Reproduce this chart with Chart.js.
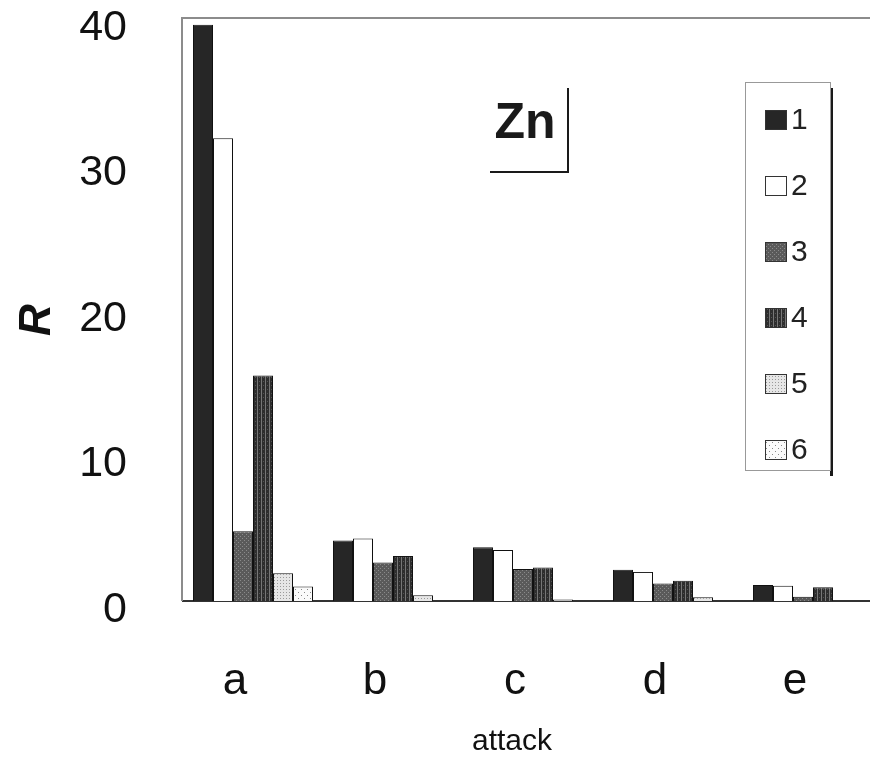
<!DOCTYPE html>
<html>
<head>
<meta charset="utf-8">
<script src="https://cdn.jsdelivr.net/npm/chart.js@4"></script>
<style>
  html, body { margin: 0; padding: 0; background: #fff; overflow: hidden; }
  #wrap { width: 900px; height: 757px; }
</style>
</head>
<body>
<div id="wrap"><canvas id="myChart" width="900" height="757"></canvas></div>
<script>
// values
const categories = ["a", "b", "c", "d", "e"];
const seriesLabels = ["1", "2", "3", "4", "5", "6"];
const s1 = [39.6, 4.15, 3.7, 2.15, 1.1];
const s2 = [31.8, 4.3, 3.5, 2.0, 1.05];
const s3 = [4.8, 2.65, 2.2, 1.2, 0.3];
const s4 = [15.5, 3.1, 2.3, 1.4, 0.95];
const s5 = [1.9, 0.4, 0.1, 0.25, 0];
const s6 = [1.0, 0, 0, 0, 0];
const yTicks = [0, 10, 20, 30, 40];

const FONT = "'Liberation Sans', Arial, sans-serif";

// small tiles for the hatched fills
function makePattern(size, draw) {
  const c = document.createElement("canvas");
  c.width = size;
  c.height = size;
  const g = c.getContext("2d");
  draw(g, size);
  return g.createPattern(c, "repeat");
}

const fill1 = "#262626";
const fill2 = "#ffffff";
const fill3 = makePattern(4, (g) => {
  g.fillStyle = "#5a5a5a";
  g.fillRect(0, 0, 4, 4);
  g.fillStyle = "#8a8a8a";
  g.fillRect(0, 0, 1, 1);
  g.fillRect(2, 2, 1, 1);
});
const fill4 = makePattern(4, (g) => {
  g.fillStyle = "#2e2e2e";
  g.fillRect(0, 0, 4, 4);
  g.fillStyle = "#777";
  g.fillRect(1, 0, 1, 4);
  g.fillStyle = "#555";
  g.fillRect(3, 1, 1, 1);
});
const fill5 = makePattern(3, (g) => {
  g.fillStyle = "#e6e6e6";
  g.fillRect(0, 0, 3, 3);
  g.fillStyle = "#9a9a9a";
  g.fillRect(1, 1, 1, 1);
});
const fill6 = makePattern(6, (g) => {
  g.fillStyle = "#fafafa";
  g.fillRect(0, 0, 6, 6);
  g.fillStyle = "#888";
  g.fillRect(1, 1, 1, 1);
  g.fillRect(4, 4, 1, 1);
});

const seriesValues = [s1, s2, s3, s4, s5, s6];
const fills = [fill1, fill2, fill3, fill4, fill5, fill6];

const datasets = seriesValues.map((vals, i) => ({
  label: seriesLabels[i],
  data: vals,
  backgroundColor: fills[i],
  borderColor: "#111",
  borderWidth: 1,
  barPercentage: 1,
  categoryPercentage: 120 / 140,
}));

// frame, titles, Zn box and the legend are drawn here
const extras = {
  id: "extras",
  beforeDatasetsDraw(chart) {
    const { ctx, chartArea } = chart;
    ctx.save();
    ctx.strokeStyle = "#8c8c8c";
    ctx.lineWidth = 2;
    ctx.beginPath();
    ctx.moveTo(chartArea.left - 1, chartArea.bottom);
    ctx.lineTo(chartArea.left - 1, chartArea.top - 1);
    ctx.lineTo(chartArea.right, chartArea.top - 1);
    ctx.stroke();
    ctx.restore();
  },
  afterDraw(chart) {
    const ctx = chart.ctx;
    ctx.save();

    // axis titles
    ctx.fillStyle = "#111";
    ctx.textAlign = "center";
    ctx.textBaseline = "middle";
    ctx.font = "30px " + FONT;
    ctx.fillText("attack", 512, 742);
    ctx.save();
    ctx.translate(38, 320);
    ctx.rotate(-Math.PI / 2);
    ctx.font = "italic bold 44px " + FONT;
    ctx.fillText("R", 0, 0);
    ctx.restore();

    // Zn label with its corner
    ctx.fillStyle = "#1a1a1a";
    ctx.font = "bold 50px " + FONT;
    ctx.fillText("Zn", 525, 124);
    ctx.strokeStyle = "#1a1a1a";
    ctx.lineWidth = 2;
    ctx.beginPath();
    ctx.moveTo(568, 88);
    ctx.lineTo(568, 172);
    ctx.lineTo(490, 172);
    ctx.stroke();

    // legend box with shadow on the right
    const bx = 745, by = 82, bw = 85, bh = 388;
    ctx.fillStyle = "#1a1a1a";
    ctx.fillRect(bx + bw, by + 6, 3, bh);
    ctx.fillStyle = "#fff";
    ctx.fillRect(bx, by, bw, bh);
    ctx.strokeStyle = "#999";
    ctx.lineWidth = 1;
    ctx.strokeRect(bx + 0.5, by + 0.5, bw, bh);

    ctx.font = "30px " + FONT;
    ctx.textAlign = "left";
    const rowY = [120, 186, 252, 318, 384, 450];
    chart.data.datasets.forEach((ds, i) => {
      const y = rowY[i];
      ctx.fillStyle = ds.backgroundColor;
      ctx.fillRect(765, y - 10, 22, 20);
      ctx.strokeStyle = "#333";
      ctx.lineWidth = 1;
      ctx.strokeRect(765.5, y - 9.5, 21, 19);
      ctx.fillStyle = "#222";
      ctx.fillText(ds.label, 791, y + 1);
    });

    ctx.restore();
  },
};

const ctx = document.getElementById("myChart");
const chart = new Chart(ctx, {
  type: "bar",
  data: { labels: categories, datasets: datasets },
  plugins: [extras],
  options: {
    responsive: false,
    devicePixelRatio: 1,
    animation: false,
    layout: { padding: { left: 0, right: 17, top: 19, bottom: 0 } },
    plugins: {
      legend: { display: false },
      tooltip: { enabled: false },
    },
    scales: {
      x: {
        grid: { display: false, drawTicks: false },
        border: { display: true, color: "#333", width: 2 },
        ticks: {
          color: "#111",
          font: { family: FONT, size: 44 },
          padding: 54,
          labelOffset: -18,
        },
        afterFit: (s) => { s.height = 156; },
      },
      y: {
        min: 0,
        max: 40,
        afterBuildTicks: (s) => { s.ticks = yTicks.map((v) => ({ value: v })); },
        grid: { display: false, drawTicks: false },
        border: { display: false },
        ticks: {
          color: "#111",
          font: { family: FONT, size: 43, lineHeight: 1 },
          padding: 56,
          labelOffset: 9,
        },
        afterFit: (s) => {
          s.width = 183;
          s.paddingTop = 0;
          s.paddingBottom = 0;
        },
      },
    },
  },
});
</script>
</body>
</html>
